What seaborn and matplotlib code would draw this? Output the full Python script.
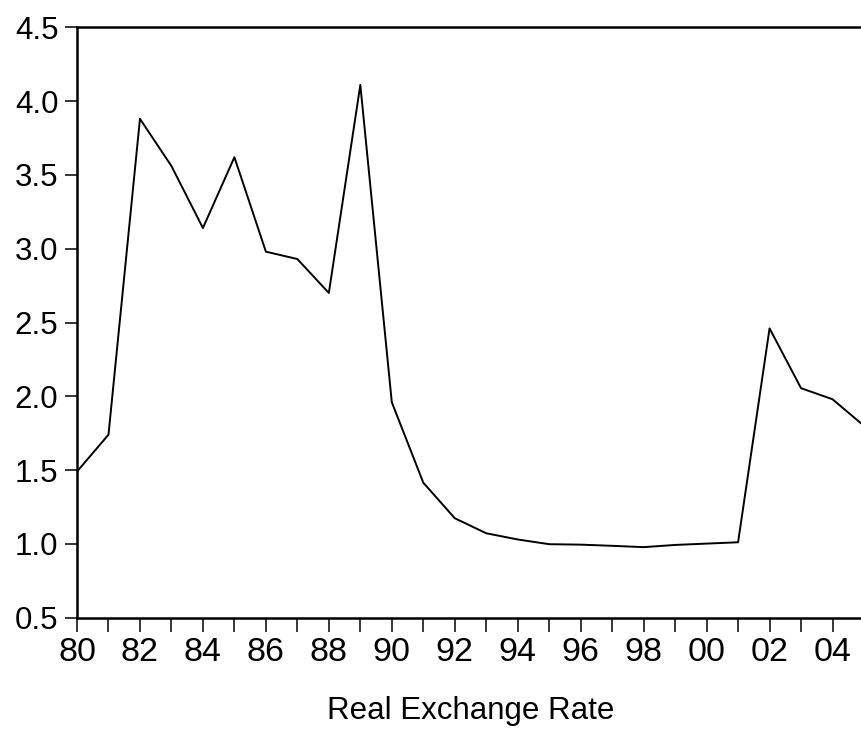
import matplotlib
matplotlib.use("Agg")
import matplotlib.pyplot as plt
import seaborn as sns
import pandas as pd
from matplotlib.ticker import MultipleLocator

years = list(range(1980, 2006))
rer = [1.49, 1.74, 3.88, 3.56, 3.14, 3.62, 2.98, 2.93, 2.70, 4.11,
       1.96, 1.415, 1.174, 1.072, 1.03, 0.998, 0.995, 0.987, 0.978, 0.993,
       1.002, 1.011, 2.46, 2.055, 1.98, 1.80]
xtick_years = list(range(1980, 2005, 2))
xtick_labels = ["80", "82", "84", "86", "88", "90", "92", "94", "96", "98", "00", "02", "04"]
ytick_values = [0.5, 1.0, 1.5, 2.0, 2.5, 3.0, 3.5, 4.0, 4.5]
ytick_labels = ["0.5", "1.0", "1.5", "2.0", "2.5", "3.0", "3.5", "4.0", "4.5"]
xlabel = "Real Exchange Rate"

sns.set_style("white")
plt.rcParams['font.family'] = ['Liberation Sans', 'DejaVu Sans']
plt.rcParams['text.color'] = 'black'
plt.rcParams['xtick.color'] = 'black'
plt.rcParams['ytick.color'] = 'black'
plt.rcParams['axes.labelcolor'] = 'black'

df = pd.DataFrame({"year": years, "rer": rer})

fig = plt.figure(figsize=(8.61, 7.29), dpi=100)
ax = fig.add_axes([77 / 861, 1 - 617.7 / 729, 787 / 861, (617.7 - 27.3) / 729])
sns.lineplot(data=df, x="year", y="rer", ax=ax, color="black", linewidth=1.4)

ax.set_xlim(1980, 2005)
ax.set_ylim(0.5, 4.5)
ax.set_xticks(xtick_years)
ax.set_xticklabels(xtick_labels)
ax.xaxis.set_minor_locator(MultipleLocator(1))
ax.set_yticks(ytick_values)
ax.set_yticklabels(ytick_labels)

for s in ax.spines.values():
    s.set_linewidth(1.8)
    s.set_color("black")

ax.tick_params(axis="x", which="both", direction="out", length=10, width=1.1,
               labelsize=24.5, pad=4, colors="black", bottom=True)
ax.tick_params(axis="y", which="major", direction="out", length=8.5, width=1.1,
               labelsize=22.5, pad=5, colors="black", left=True)
ax.set_xlabel(xlabel, fontsize=22.5, labelpad=20, color="black")
ax.set_ylabel("")

fig.savefig("out.png", dpi=100)
